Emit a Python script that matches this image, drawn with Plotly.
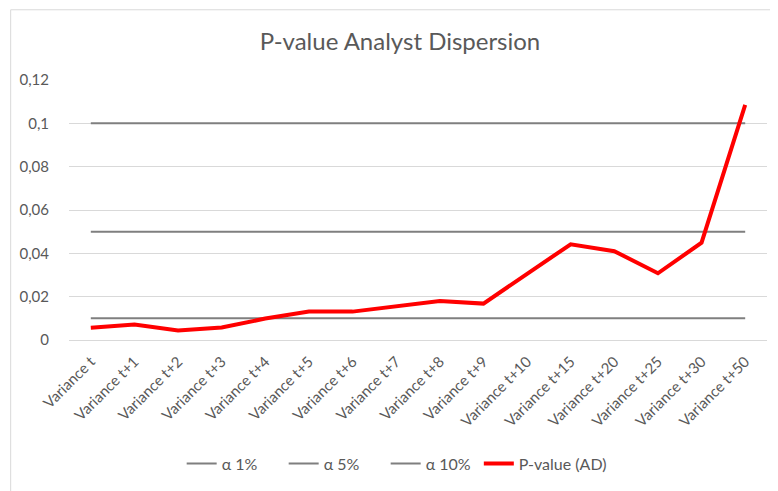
import plotly.graph_objects as go

categories = ["Variance t", "Variance t+1", "Variance t+2", "Variance t+3", "Variance t+4",
              "Variance t+5", "Variance t+6", "Variance t+7", "Variance t+8", "Variance t+9",
              "Variance t+10", "Variance t+15", "Variance t+20", "Variance t+25",
              "Variance t+30", "Variance t+50"]

p_value_ad = [0.0057, 0.0071, 0.0044, 0.0058, 0.0099, 0.0131, 0.0131, 0.0157,
              0.018, 0.0168, 0.0304, 0.0442, 0.041, 0.0308, 0.0449, 0.1085]

alpha_1 = [0.01] * len(categories)
alpha_5 = [0.05] * len(categories)
alpha_10 = [0.10] * len(categories)

grey = "#7f7f7f"
text_col = "#595959"

fig = go.Figure()
fig.add_trace(go.Scatter(x=categories, y=alpha_1, name="α 1%", mode="lines",
                         line=dict(color=grey, width=2)))
fig.add_trace(go.Scatter(x=categories, y=alpha_5, name="α 5%", mode="lines",
                         line=dict(color=grey, width=2)))
fig.add_trace(go.Scatter(x=categories, y=alpha_10, name="α 10%", mode="lines",
                         line=dict(color=grey, width=2)))
fig.add_trace(go.Scatter(x=categories, y=p_value_ad, name="P-value (AD)", mode="lines",
                         line=dict(color="#ff0000", width=4), legend="legend2"))

# page body has an 8px margin, so the figure itself starts where the frame starts
W, H = 770, 483
L, R, T, B = 59, 11, 72, 150
pw, ph = W - L - R, H - T - B

# light frame (only left and top edges are visible in the screenshot)
fig.add_shape(type="rect", xref="paper", yref="paper",
              x0=(0.5 - L) / pw, x1=(W + 20 - L) / pw,
              y0=-(B + 20) / ph, y1=(H - B - 1.5) / ph,
              line=dict(color="#d9d9d9", width=1), fillcolor="rgba(0,0,0,0)",
              layer="below")

legend_y = -(457 - (H - B)) / ph

fig.update_layout(
    width=W, height=H,
    margin=dict(l=L, r=R, t=T, b=B),
    paper_bgcolor="white", plot_bgcolor="white",
    separators=", ",
    font=dict(family="Lato, Open Sans, sans-serif", color=text_col, size=15),
    title=dict(text="P-value Analyst Dispersion", x=(L + 333) / W, xanchor="center",
               y=1 - 34 / H, yanchor="middle",
               font=dict(size=24, color=text_col)),
    showlegend=True,
    legend=dict(orientation="h", x=(180 - 8 - L) / pw, xanchor="left",
                y=legend_y, yanchor="middle",
                entrywidth=57, entrywidthmode="pixels",
                font=dict(size=16, color=text_col), traceorder="normal"),
    legend2=dict(orientation="h", x=(478 - 8 - L) / pw, xanchor="left",
                 y=legend_y, yanchor="middle",
                 font=dict(size=16, color=text_col)),
    # invisible ticks are used only to push the labels away from the plot
    xaxis=dict(tickangle=-45, showgrid=False, showline=False,
               ticks="outside", ticklen=6, tickcolor="rgba(0,0,0,0)",
               range=[-0.5, len(categories) - 0.5],
               tickfont=dict(size=15, color=text_col)),
    yaxis=dict(range=[0, 0.12], dtick=0.02, showgrid=True, gridcolor="#d9d9d9",
               gridwidth=1, zeroline=True, zerolinecolor="#d9d9d9", zerolinewidth=1,
               showline=False, ticks="outside", ticklen=16, tickcolor="rgba(0,0,0,0)",
               tickfont=dict(size=15, color=text_col)),
)

fig.write_html("out.html")
